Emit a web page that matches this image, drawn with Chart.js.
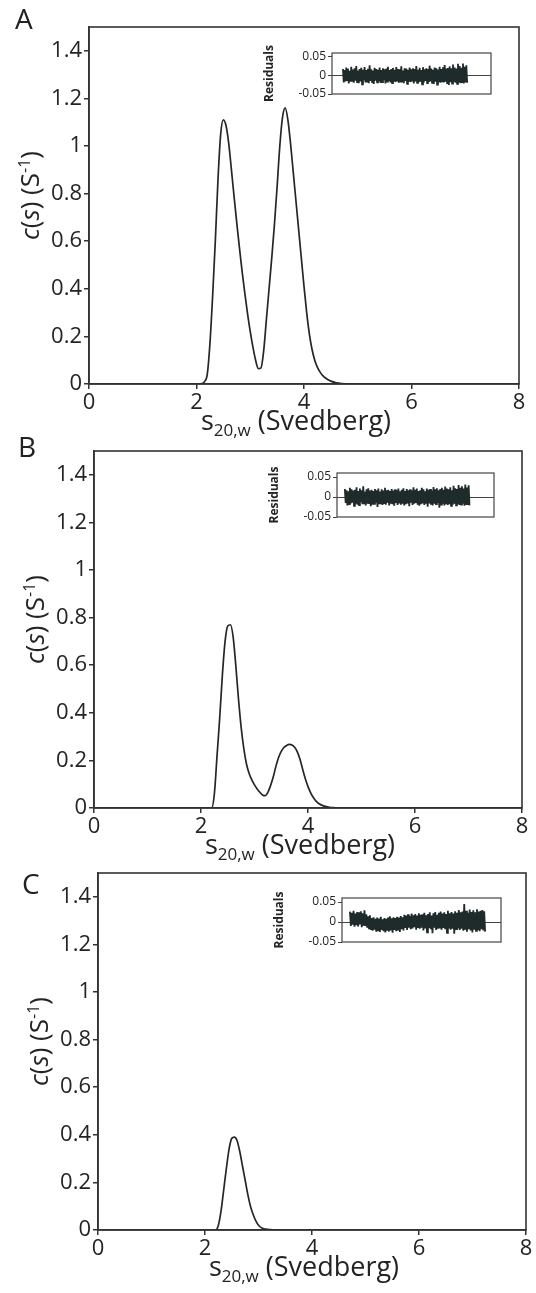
<!DOCTYPE html>
<html>
<head>
<meta charset="utf-8">
<script src="https://cdn.jsdelivr.net/npm/chart.js@4/dist/chart.umd.min.js"></script>
<style>
  html, body { margin: 0; padding: 0; background: #fff; }
  #page { position: relative; width: 536px; height: 1293px; overflow: hidden; background: #fff; }
  #page canvas { position: absolute; left: 0; top: 0; }
  .tag { position: absolute; font: 28px "Open Sans", sans-serif; line-height: 1; color: #222; }
</style>
</head>
<body>
<div id="page">
  <canvas id="mainA" width="536" height="1293"></canvas>
  <canvas id="mainB" width="536" height="1293"></canvas>
  <canvas id="mainC" width="536" height="1293"></canvas>
  <canvas id="resA" width="536" height="1293"></canvas>
  <canvas id="resB" width="536" height="1293"></canvas>
  <canvas id="resC" width="536" height="1293"></canvas>
  <div class="tag" style="left:15px;top:4px">A</div>
  <div class="tag" style="left:18px;top:432px">B</div>
  <div class="tag" style="left:22px;top:869px">C</div>
</div>
<script>
// ---- axis ticks ----
const xTicks = [0, 2, 4, 6, 8];
const xTickLabels = ['0', '2', '4', '6', '8'];
const yTicks = [0, 0.2, 0.4, 0.6, 0.8, 1, 1.2, 1.4];
const yTickLabels = ['0', '0.2', '0.4', '0.6', '0.8', '1', '1.2', '1.4'];
const resTicks = [-0.05, 0, 0.05];
const resTickLabels = ['-0.05', '0', '0.05'];

// ---- c(s) distributions: sedimentation coefficient (S) and c(s) ----
const sA = [0, 1, 2, 2.1, 2.15, 2.2, 2.25, 2.3, 2.35, 2.4,
            2.45, 2.5, 2.55, 2.6, 2.65, 2.7, 2.75, 2.8, 2.85, 2.9,
            2.95, 3.0, 3.05, 3.1, 3.15, 3.2, 3.25, 3.3, 3.35, 3.4,
            3.45, 3.5, 3.55, 3.6, 3.65, 3.7, 3.75, 3.8, 3.85, 3.9,
            3.95, 4.0, 4.05, 4.1, 4.15, 4.2, 4.25, 4.3, 4.35, 4.4,
            4.5, 4.6, 4.7, 4.8, 5, 6, 7, 8];
const cA = [0, 0, 0, 0.002, 0.01, 0.04, 0.17, 0.37, 0.6, 0.86,
            1.05, 1.11, 1.085, 1.01, 0.9, 0.785, 0.675, 0.57, 0.47, 0.38,
            0.295, 0.22, 0.155, 0.1, 0.065, 0.068, 0.14, 0.27, 0.4, 0.53,
            0.67, 0.83, 1.0, 1.12, 1.16, 1.11, 1.01, 0.89, 0.77, 0.65,
            0.53, 0.41, 0.3, 0.21, 0.145, 0.1, 0.07, 0.05, 0.035, 0.025,
            0.012, 0.005, 0.002, 0.001, 0, 0, 0, 0];

const sB = [0, 1, 2, 2.15, 2.2, 2.25, 2.3, 2.35, 2.4, 2.45,
            2.5, 2.55, 2.6, 2.65, 2.7, 2.75, 2.8, 2.85, 2.9, 2.95,
            3.0, 3.05, 3.1, 3.15, 3.2, 3.25, 3.3, 3.35, 3.4, 3.45,
            3.5, 3.55, 3.6, 3.65, 3.7, 3.75, 3.8, 3.85, 3.9, 3.95,
            4.0, 4.05, 4.1, 4.15, 4.2, 4.3, 4.4, 4.5, 4.6, 5,
            6, 7, 8];
const cB = [0, 0, 0, 0, 0, 0.06, 0.22, 0.38, 0.56, 0.70,
            0.765, 0.77, 0.72, 0.6, 0.46, 0.34, 0.25, 0.185, 0.145, 0.118,
            0.097, 0.08, 0.066, 0.055, 0.052, 0.066, 0.094, 0.13, 0.175, 0.212,
            0.238, 0.254, 0.263, 0.267, 0.265, 0.255, 0.236, 0.205, 0.163, 0.123,
            0.09, 0.064, 0.044, 0.029, 0.019, 0.008, 0.003, 0.001, 0, 0,
            0, 0, 0];

const sC = [0, 1, 2, 2.15, 2.2, 2.25, 2.3, 2.35, 2.4, 2.45,
            2.5, 2.55, 2.6, 2.65, 2.7, 2.75, 2.8, 2.85, 2.9, 2.95,
            3.0, 3.05, 3.1, 3.2, 3.3, 4, 5, 6, 7, 8];
const cC = [0, 0, 0, 0, 0, 0.02, 0.08, 0.17, 0.26, 0.34,
            0.385, 0.39, 0.375, 0.33, 0.27, 0.21, 0.15, 0.1, 0.065, 0.038,
            0.02, 0.01, 0.005, 0.002, 0, 0, 0, 0, 0, 0];

// ---- fit residuals (listed in thousandths) over the radial span of each scan ----
const RES_UNIT = 0.001;
const resSpanA = [5.91, 7.16];
const resSpanB = [5.88, 7.15];
const resSpanC = [5.88, 7.24];
const residualsA = [
  17,-19,14,-16,21,-13,18,-22,12,-17,23,-15,16,-20,19,-14,25,-18,13,-21,
  17,-16,20,-24,15,-13,22,-19,14,-17,18,-21,27,-15,16,-18,13,-23,20,-14,
  17,-19,15,-16,21,-20,14,-18,19,-13,16,-22,18,-17,23,-15,14,-19,17,-21,
  20,-16,15,-18,22,-14,17,-20,16,-19,24,-17,13,-21,19,-15,18,-23,15,-17,
  21,-18,16,-14,19,-22,17,-16,25,-20,15,-18,20,-17,14,-24,22,-19,16,-15,
  19,-21,17,-18,26,-16,18,-20,15,-23,21,-17,19,-25,16,-18,23,-20,17,-16,
  22,-19,28,-17,18,-21,20,-26,24,-18,19,-22,29,-17,21,-20,18,-23,31,-19,
  25,-21,20,-18,32,-22,23,-19,27,-20];
const residualsB = [
  20,-15,17,-21,14,-18,23,-16,19,-14,16,-22,18,-17,24,-19,15,-20,21,-13,
  17,-18,27,-16,14,-21,19,-17,22,-15,16,-23,18,-19,15,-17,20,-14,17,-25,
  21,-16,14,-18,19,-20,16,-15,23,-19,17,-14,18,-21,15,-17,20,-18,16,-22,
  19,-15,17,-20,21,-16,14,-19,18,-17,22,-21,15,-18,20,-16,17,-23,19,-14,
  16,-20,24,-17,18,-15,21,-19,15,-22,17,-18,23,-16,19,-20,14,-17,21,-24,
  18,-16,20,-19,16,-21,25,-17,19,-18,22,-15,17,-27,20,-19,23,-17,18,-21,
  26,-16,21,-20,19,-18,24,-22,17,-19,28,-17,22,-21,20,-18,30,-20,23,-19,
  27,-17,21,-22,31,-18,24,-20,29,-21];
const residualsC = [
  26,-10,23,-7,28,-12,21,-8,25,-11,24,-6,27,-13,22,-9,29,-10,19,-14,
  14,-18,17,-20,10,-22,12,-19,8,-24,11,-21,9,-25,13,-20,7,-23,10,-26,
  8,-22,11,-24,14,-21,9,-27,12,-20,10,-23,13,-19,11,-25,15,-18,12,-21,
  18,-15,16,-20,19,-14,15,-18,21,-16,17,-13,20,-19,16,-15,22,-17,18,-14,
  19,-21,23,-16,17,-26,20,-15,24,-18,16,-28,22,-14,25,-20,18,-17,23,-16,
  26,-19,21,-15,24,-18,20,-27,28,-16,22,-19,25,-17,21,-29,27,-18,23,-16,
  30,-20,24,-17,26,-22,45,-19,28,-24,23,-18,31,-21,25,-26,29,-19,24,-22,
  32,-20,26,-23,28,-18,30,-21,27,-24];

// ---- page layout (pixel frames of each plot and its residual inset) ----
const PAGE_W = 536, PAGE_H = 1293;
const FAMILY = '"Open Sans", sans-serif';
const INK = '#242424';
const frames = {
  A: { left: 89, right: 519, top: 27,  bottom: 384,  ins: { left: 332, right: 491, top: 53,  bottom: 94 } },
  B: { left: 94, right: 522, top: 451, bottom: 808,  ins: { left: 337, right: 494, top: 473, bottom: 517 } },
  C: { left: 98, right: 526, top: 873, bottom: 1230, ins: { left: 342, right: 501, top: 898, bottom: 942 } }
};

// Draws a sequence of text runs (italic / superscript / subscript), centred on x = 0.
function drawRuns(ctx, runs, size) {
  const parts = runs.map(r => {
    const fs = (r.sup || r.sub) ? Math.round(size * 0.62) : size;
    const font = (r.italic ? 'italic ' : '') + fs + 'px ' + FAMILY;
    ctx.font = font;
    return { t: r.t, font, w: ctx.measureText(r.t).width, dy: r.sup ? -size * 0.36 : r.sub ? size * 0.24 : 0 };
  });
  const total = parts.reduce((a, p) => a + p.w, 0);
  let x = -total / 2;
  ctx.textAlign = 'left';
  ctx.textBaseline = 'alphabetic';
  parts.forEach(p => { ctx.font = p.font; ctx.fillText(p.t, x, p.dy); x += p.w; });
}

function mainDecor() {
  return {
    id: 'mainDecor',
    afterDraw(chart) {
      const { ctx, chartArea: a } = chart;
      ctx.save();
      ctx.strokeStyle = '#333';
      ctx.lineWidth = 1.6;
      ctx.strokeRect(a.left, a.top, a.right - a.left, a.bottom - a.top);
      ctx.fillStyle = INK;
      // x title: s20,w (Svedberg)
      ctx.save();
      ctx.translate((a.left + a.right) / 2 - 8, a.bottom + 46);
      drawRuns(ctx, [{ t: 's' }, { t: '20,w', sub: true }, { t: ' (Svedberg)' }], 27);
      ctx.restore();
      // y title: c(s) (S-1)
      ctx.save();
      ctx.translate(a.left - 59, (a.top + a.bottom) / 2 - 10);
      ctx.rotate(-Math.PI / 2);
      ctx.translate(0, 9);
      drawRuns(ctx, [{ t: 'c', italic: true }, { t: '(' }, { t: 's', italic: true }, { t: ') (S' },
                     { t: '-1', sup: true }, { t: ')' }], 26);
      ctx.restore();
      ctx.restore();
    }
  };
}

function insetDecor() {
  return {
    id: 'insetDecor',
    afterDraw(chart) {
      const { ctx, chartArea: a } = chart;
      ctx.save();
      ctx.strokeStyle = '#444';
      ctx.lineWidth = 1.2;
      ctx.strokeRect(a.left, a.top, a.right - a.left, a.bottom - a.top);
      ctx.fillStyle = INK;
      ctx.translate(a.left - 62, (a.top + a.bottom) / 2);
      ctx.rotate(-Math.PI / 2);
      ctx.font = 'bold 12px ' + FAMILY;
      ctx.textAlign = 'center';
      ctx.textBaseline = 'middle';
      ctx.fillText('Residuals', 0, 0);
      ctx.restore();
    }
  };
}

function mainChart(id, s, c, f) {
  const axisTicks = { font: { family: FAMILY, size: 22 }, color: INK, maxRotation: 0, autoSkip: false };
  const axisGrid = { drawOnChartArea: false, drawTicks: true, tickLength: 5, color: '#333', lineWidth: 1.5 };
  return new Chart(document.getElementById(id), {
    type: 'line',
    data: {
      datasets: [{
        data: s.map((x, i) => ({ x, y: c[i] })),
        borderColor: '#262626', borderWidth: 1.7, pointRadius: 0, fill: false,
        cubicInterpolationMode: 'monotone'
      }]
    },
    options: {
      responsive: false, animation: false, devicePixelRatio: 1,
      layout: { padding: { left: f.left - 60, right: PAGE_W - f.right, top: f.top, bottom: PAGE_H - f.bottom - 40 } },
      plugins: { legend: { display: false }, tooltip: { enabled: false } },
      scales: {
        x: {
          type: 'linear', min: 0, max: 8,
          afterBuildTicks: sc => { sc.ticks = xTicks.map(v => ({ value: v })); },
          afterFit: sc => { sc.height = 40; },
          ticks: Object.assign({ padding: 1, callback: (v, i) => xTickLabels[i] }, axisTicks),
          grid: axisGrid,
          border: { display: true, color: '#333', width: 1.6 }
        },
        y: {
          type: 'linear', min: 0, max: 1.5,
          afterBuildTicks: sc => { sc.ticks = yTicks.map(v => ({ value: v })); },
          afterFit: sc => { sc.width = 60; },
          ticks: Object.assign({ padding: 2, callback: (v, i) => yTickLabels[i] }, axisTicks),
          grid: axisGrid,
          border: { display: true, color: '#333', width: 1.6 }
        }
      }
    },
    plugins: [mainDecor()]
  });
}

function insetChart(id, span, vals, g) {
  const n = vals.length;
  return new Chart(document.getElementById(id), {
    type: 'line',
    data: {
      datasets: [{
        data: vals.map((v, i) => ({ x: span[0] + (span[1] - span[0]) * i / (n - 1), y: v * RES_UNIT })),
        borderColor: '#1f2b2a', borderWidth: 1.8, pointRadius: 0, fill: false, tension: 0
      }]
    },
    options: {
      responsive: false, animation: false, devicePixelRatio: 1,
      layout: { padding: { left: g.left - 40, right: PAGE_W - g.right, top: g.top, bottom: PAGE_H - g.bottom } },
      plugins: { legend: { display: false }, tooltip: { enabled: false } },
      scales: {
        x: { type: 'linear', min: 5.8, max: 7.4, display: false },
        y: {
          type: 'linear', min: -0.05, max: 0.06,
          afterBuildTicks: sc => { sc.ticks = resTicks.map(v => ({ value: v })); },
          afterFit: sc => { sc.width = 40; },
          ticks: { font: { family: FAMILY, size: 12 }, color: INK, padding: 2, callback: (v, i) => resTickLabels[i] },
          grid: {
            drawOnChartArea: true, drawTicks: true, tickLength: 4, tickColor: '#444', lineWidth: 1,
            color: ctx => (ctx.tick && ctx.tick.value === 0) ? '#444' : 'rgba(0,0,0,0)'
          },
          border: { display: false }
        }
      }
    },
    plugins: [insetDecor()]
  });
}

mainChart('mainA', sA, cA, frames.A);
mainChart('mainB', sB, cB, frames.B);
mainChart('mainC', sC, cC, frames.C);
insetChart('resA', resSpanA, residualsA, frames.A.ins);
insetChart('resB', resSpanB, residualsB, frames.B.ins);
insetChart('resC', resSpanC, residualsC, frames.C.ins);
</script>
</body>
</html>
